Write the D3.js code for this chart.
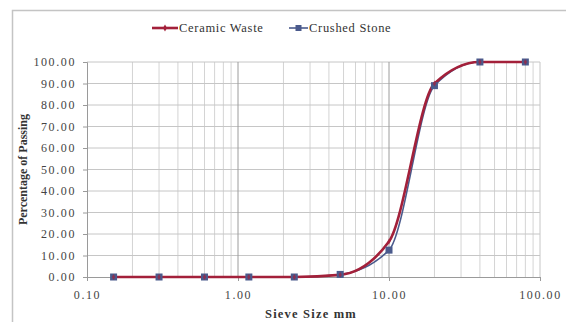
<!DOCTYPE html>
<html>
<head>
<meta charset="utf-8">
<script src="https://cdn.jsdelivr.net/npm/d3@7"></script>
<style>
  body { margin: 0; background: #fff; }
  svg { display: block; }
  svg text { font-family: "Liberation Serif", "DejaVu Serif", serif; }
</style>
</head>
<body>
<div id="chart"></div>
<script>
// sieve sizes (mm) and percentage passing
const sieveSizes = [0.15, 0.3, 0.6, 1.18, 2.36, 4.75, 10, 20, 40, 80];
const ceramicWaste = [0, 0, 0, 0, 0, 1.0, 16.5, 90, 100, 100];
const crushedStone = [0, 0, 0, 0, 0, 1.2, 12.5, 89, 100, 100];
const xTicks = [0.1, 1, 10, 100];
const yTicks = [0, 10, 20, 30, 40, 50, 60, 70, 80, 90, 100];

const width = 566, height = 322;
const margin = { top: 62, right: 26, bottom: 45, left: 87 };

const svg = d3.select("#chart").append("svg")
    .attr("width", width)
    .attr("height", height);

// outer chart frame
svg.append("rect")
    .attr("x", 12.5).attr("y", 10.5)
    .attr("width", 570).attr("height", 330)
    .attr("fill", "none")
    .attr("stroke", "#c4c4c4")
    .attr("stroke-width", 1.5);

const x = d3.scaleLog()
    .domain([0.1, 100])
    .range([margin.left, width - margin.right]);

const y = d3.scaleLinear()
    .domain([0, 100])
    .range([height - margin.bottom, margin.top]);

// minor vertical grid
const minor = [];
[0.1, 1, 10].forEach(d => { for (let k = 2; k <= 9; k++) minor.push(d * k); });

svg.append("g")
    .selectAll("line")
    .data(minor)
    .join("line")
    .attr("x1", d => x(d)).attr("x2", d => x(d))
    .attr("y1", y(0)).attr("y2", y(100))
    .attr("stroke", "#d4d4d4")
    .attr("stroke-width", 1);

// horizontal grid
svg.append("g")
    .selectAll("line")
    .data(yTicks.slice(1))
    .join("line")
    .attr("x1", x(0.1)).attr("x2", x(100))
    .attr("y1", d => y(d)).attr("y2", d => y(d))
    .attr("stroke", "#c6c6c6");

// major vertical grid
svg.append("g")
    .selectAll("line")
    .data(xTicks.slice(1))
    .join("line")
    .attr("x1", d => x(d)).attr("x2", d => x(d))
    .attr("y1", y(0)).attr("y2", y(100))
    .attr("stroke", d => d === 100 ? "#c6c6c6" : "#9c9c9c");

// y axis
const yAxis = svg.append("g")
    .attr("transform", `translate(${margin.left},0)`)
    .call(d3.axisLeft(y).tickValues(yTicks).tickFormat(d3.format(".2f")).tickSize(4).tickPadding(7));
yAxis.attr("font-family", null);
yAxis.select(".domain").attr("stroke", "#9a9a9a");
yAxis.selectAll(".tick line").attr("stroke", "#9a9a9a");
yAxis.selectAll("text")
    .attr("font-size", 12)
    .attr("letter-spacing", 1.6)
    .attr("fill", "#444");

// x axis
const xAxis = svg.append("g")
    .attr("transform", `translate(0,${y(0)})`)
    .call(d3.axisBottom(x).tickValues(xTicks).tickFormat(d3.format(".2f")).tickSize(4).tickPadding(9));
xAxis.attr("font-family", null);
xAxis.select(".domain").attr("stroke", "#9a9a9a");
xAxis.selectAll(".tick line").attr("stroke", "#9a9a9a");
xAxis.selectAll("text")
    .attr("font-size", 12)
    .attr("letter-spacing", 1.6)
    .attr("fill", "#444");

// axis titles
svg.append("text")
    .attr("transform", `translate(27,${(y(0) + y(100)) / 2}) rotate(-90)`)
    .attr("text-anchor", "middle")
    .attr("font-size", 12)
    .attr("font-weight", "bold")
    .attr("fill", "#333")
    .text("Percentage of Passing");

svg.append("text")
    .attr("x", 311).attr("y", 318)
    .attr("text-anchor", "middle")
    .attr("font-size", 12.5)
    .attr("letter-spacing", 1.2)
    .attr("font-weight", "bold")
    .attr("fill", "#333")
    .text("Sieve Size mm");

// series
const series = [
    { name: "Ceramic Waste", values: ceramicWaste, color: "#a3203a", width: 2.6 },
    { name: "Crushed Stone", values: crushedStone, color: "#4a5a8c", width: 1.6 }
];

const line = d3.line()
    .x(d => x(d[0]))
    .y(d => y(d[1]))
    .curve(d3.curveMonotoneX);

series.slice().reverse().forEach(s => {
    const pts = sieveSizes.map((d, i) => [d, s.values[i]]);
    svg.append("path")
        .datum(pts)
        .attr("fill", "none")
        .attr("stroke", s.color)
        .attr("stroke-width", s.width)
        .attr("d", line);
});

// crushed stone markers
svg.append("g")
    .selectAll("rect")
    .data(sieveSizes.map((d, i) => [d, crushedStone[i]]))
    .join("rect")
    .attr("x", d => x(d[0]) - 3.5)
    .attr("y", d => y(d[1]) - 3.5)
    .attr("width", 7).attr("height", 7)
    .attr("fill", "#4a5a8c");

// ceramic waste markers (small diamonds)
svg.append("g")
    .selectAll("path")
    .data(sieveSizes.map((d, i) => [d, ceramicWaste[i]]))
    .join("path")
    .attr("d", d3.symbol().type(d3.symbolDiamond).size(10))
    .attr("transform", d => `translate(${x(d[0])},${y(d[1])})`)
    .attr("fill", "#a3203a")
    .attr("opacity", 0.7);

// legend
const legend = svg.append("g").attr("transform", "translate(0,28)");
const legendItems = [
    { s: series[0], x0: 152, tx: 179 },
    { s: series[1], x0: 289, tx: 309 }
];
legendItems.forEach(item => {
    const g = legend.append("g");
    const w = item.tx - item.x0 - 1;
    g.append("line")
        .attr("x1", item.x0).attr("x2", item.x0 + w)
        .attr("y1", 0).attr("y2", 0)
        .attr("stroke", item.s.color)
        .attr("stroke-width", item.s.width);
    if (item.s.name === "Crushed Stone") {
        g.append("rect")
            .attr("x", item.x0 + w / 2 - 3).attr("y", -3)
            .attr("width", 6).attr("height", 6)
            .attr("fill", item.s.color);
    } else {
        g.append("path")
            .attr("d", d3.symbol().type(d3.symbolDiamond).size(14))
            .attr("transform", `translate(${item.x0 + w / 2},0)`)
            .attr("fill", item.s.color);
    }
    g.append("text")
        .attr("x", item.tx).attr("y", 4)
        .attr("font-size", 12.5)
        .attr("letter-spacing", 0.7)
        .attr("fill", "#333")
        .text(item.s.name);
});
</script>
</body>
</html>
